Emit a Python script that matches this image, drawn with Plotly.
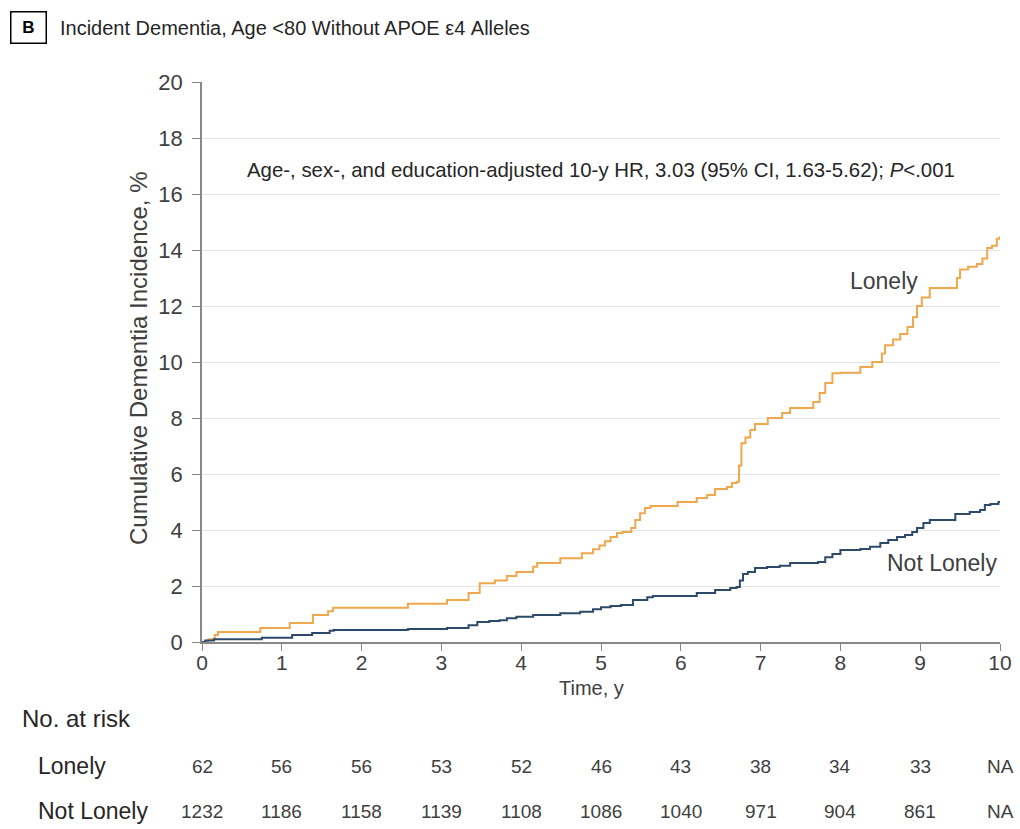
import plotly.graph_objects as go

# ---- data ----
lonely_t = [0, 0.08, 0.16, 0.2, 0.73, 1.1, 1.39, 1.58, 1.64, 2.58, 3.07, 3.34, 3.48, 3.67, 3.82, 3.94,
            4.15, 4.2, 4.49, 4.76, 4.9, 4.98, 5.05, 5.12, 5.2, 5.27, 5.38, 5.43, 5.49, 5.55, 5.62, 5.96,
            6.2, 6.33, 6.43, 6.58, 6.64, 6.7, 6.73, 6.76, 6.81, 6.87, 6.93, 7.09, 7.27, 7.37, 7.66, 7.74,
            7.81, 7.9, 8.0, 8.25, 8.4, 8.52, 8.56, 8.66, 8.75, 8.84, 8.91, 8.96, 9.02, 9.12, 9.46, 9.5,
            9.6, 9.71, 9.78, 9.84, 9.9, 9.96, 10.0]
lonely_v = [0, 0.1, 0.25, 0.36, 0.5, 0.68, 0.96, 1.1, 1.22, 1.37, 1.5, 1.75, 2.1, 2.2, 2.36, 2.5,
            2.69, 2.82, 2.99, 3.17, 3.31, 3.45, 3.6, 3.75, 3.89, 3.93, 4.07, 4.36, 4.6, 4.79, 4.86, 5.0,
            5.14, 5.25, 5.46, 5.54, 5.68, 5.72, 6.3, 7.1, 7.3, 7.57, 7.79, 8.0, 8.18, 8.36, 8.57, 8.89,
            9.25, 9.6, 9.62, 9.82, 10.0, 10.3, 10.6, 10.8, 11.0, 11.25, 11.6, 12.0, 12.3, 12.64, 13.0, 13.3,
            13.4, 13.5, 13.7, 14.07, 14.15, 14.4, 14.5]

notlonely_t = [0, 0.04, 0.15, 0.75, 1.13, 1.38, 1.6, 1.65, 2.58, 3.07, 3.34, 3.45, 3.6, 3.73, 3.82, 3.94,
               4.15, 4.49, 4.74, 4.9, 5.0, 5.12, 5.25, 5.4, 5.58, 5.65, 6.2, 6.43, 6.62, 6.7, 6.74, 6.78,
               6.84, 6.93, 7.08, 7.24, 7.37, 7.72, 7.81, 7.9, 8.0, 8.25, 8.37, 8.5, 8.6, 8.71, 8.81, 8.9,
               8.96, 9.04, 9.12, 9.44, 9.62, 9.75, 9.81, 9.88, 9.98, 10.0]
notlonely_v = [0, 0.05, 0.1, 0.15, 0.25, 0.32, 0.4, 0.43, 0.46, 0.5, 0.6, 0.71, 0.75, 0.78, 0.85, 0.9,
               0.96, 1.03, 1.08, 1.17, 1.24, 1.29, 1.32, 1.5, 1.6, 1.64, 1.75, 1.86, 1.93, 1.96, 2.2, 2.43,
               2.5, 2.64, 2.68, 2.72, 2.82, 2.86, 3.03, 3.14, 3.29, 3.32, 3.4, 3.54, 3.64, 3.75, 3.82, 3.93,
               4.07, 4.25, 4.36, 4.57, 4.64, 4.71, 4.89, 4.93, 5.0, 5.0]

risk_times = [0, 1, 2, 3, 4, 5, 6, 7, 8, 9, 10]
risk_lonely = ["62", "56", "56", "53", "52", "46", "43", "38", "34", "33", "NA"]
risk_notlonely = ["1232", "1186", "1158", "1139", "1108", "1086", "1040", "971", "904", "861", "NA"]

x_ticks = [0, 1, 2, 3, 4, 5, 6, 7, 8, 9, 10]
y_ticks = [0, 2, 4, 6, 8, 10, 12, 14, 16, 18, 20]

title_text = "Incident Dementia, Age <80 Without APOE ε4 Alleles"
panel_letter = "B"
hr_text = "Age-, sex-, and education-adjusted 10-y HR, 3.03 (95% CI, 1.63-5.62); <i>P</i>&lt;.001"

ORANGE = "#EFA84E"
NAVY = "#2E4A6A"
TXT = "#404040"
FONT = "Liberation Sans, Arial, sans-serif"

fig = go.Figure()
fig.add_trace(go.Scatter(x=lonely_t, y=lonely_v, mode="lines", line=dict(color=ORANGE, width=2, shape="hv"),
                         name="Lonely", showlegend=False))
fig.add_trace(go.Scatter(x=notlonely_t, y=notlonely_v, mode="lines", line=dict(color=NAVY, width=2, shape="hv"),
                         name="Not Lonely", showlegend=False))

W, H = 1020, 829
L, R, T, B = 202, 20, 82, 187
pw, ph = W - L - R, H - T - B


def px_x(sx):
    return (sx - L) / pw


def px_y(sy):
    return (H - B - sy) / ph


def note(text, x, y, xref="paper", yref="paper", size=20, color=TXT, xanchor="center", **kw):
    return dict(text=text, x=x, y=y, xref=xref, yref=yref, showarrow=False, xanchor=xanchor,
                yanchor="middle", font=dict(family=FONT, size=size, color=color), **kw)


ann = []
ann.append(note(hr_text, px_x(601), px_y(170), size=20.4, color="#262626"))
ann.append(note("Lonely", px_x(884), px_y(281), size=23))
ann.append(note("Not Lonely", px_x(942), px_y(563), size=23))
ann.append(note("Time, y", px_x(591), px_y(688), size=20))
ann.append(note("Cumulative Dementia Incidence, %", px_x(138), px_y(358), size=24, textangle=-90))
ann.append(note("No. at risk", px_x(20), px_y(718), size=24, color="#262626", xanchor="left"))
ann.append(note("Lonely", px_x(36), px_y(766), size=23, color="#262626", xanchor="left"))
ann.append(note("Not Lonely", px_x(36), px_y(811), size=23, color="#262626", xanchor="left"))
for t, a, b in zip(risk_times, risk_lonely, risk_notlonely):
    ann.append(note(a, t, px_y(766), xref="x", size=19))
    ann.append(note(b, t, px_y(811), xref="x", size=19))
ann.append(note("<b>" + panel_letter + "</b>", px_x(28), px_y(28), size=17, color="#000000",
                bordercolor="#000000", borderwidth=1.5, width=32, height=28))
ann.append(note(title_text, px_x(58), px_y(28), size=20, color="#262626", xanchor="left"))

fig.update_layout(
    width=W, height=H,
    margin=dict(l=L, r=R, t=T, b=B, autoexpand=False),
    paper_bgcolor="white", plot_bgcolor="white",
    annotations=ann,
    xaxis=dict(range=[0, 10], tickvals=x_ticks, ticks="outside", ticklen=7, tickcolor="#888888",
               showline=True, linecolor="#888888", linewidth=1.5, showgrid=False, zeroline=False,
               ticklabelstandoff=-6, tickfont=dict(family=FONT, size=21, color=TXT)),
    yaxis=dict(range=[0, 20], tickvals=y_ticks, ticks="outside", ticklen=8, tickcolor="#888888",
               showline=True, linecolor="#888888", linewidth=1.5, showgrid=True, gridcolor="#E4E4E4",
               gridwidth=1, zeroline=False, ticklabelstandoff=5,
               tickfont=dict(family=FONT, size=22, color=TXT)),
)

fig.write_html("out.html", config={"displayModeBar": False},
               post_script="document.body.style.margin='0';document.body.style.overflow='hidden';")
